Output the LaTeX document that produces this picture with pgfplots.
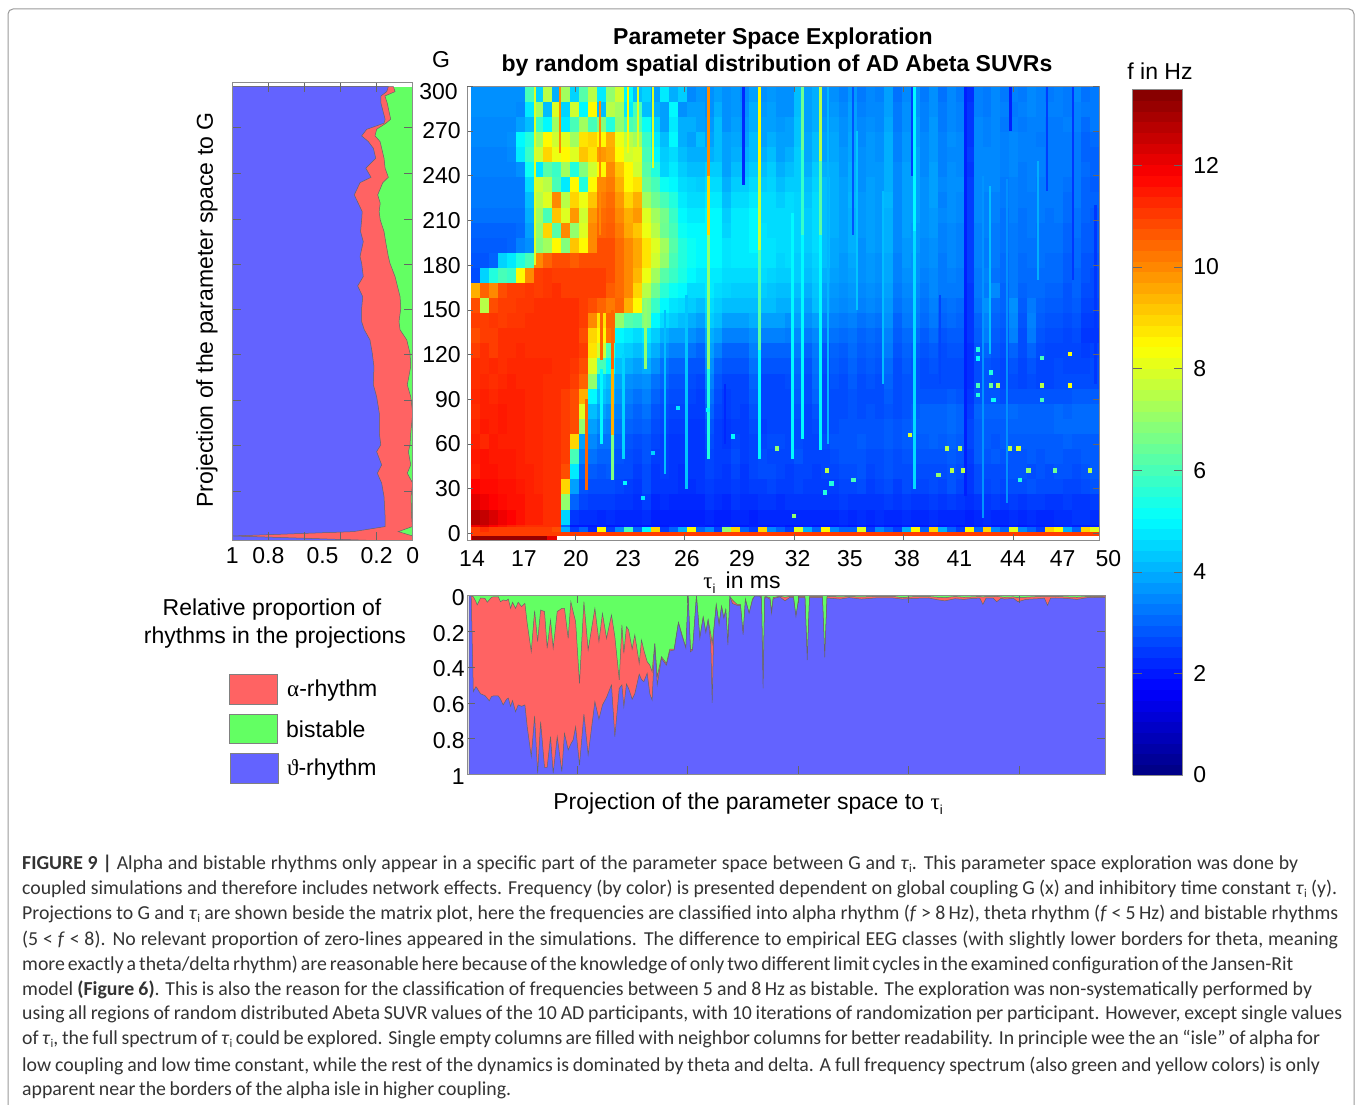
\documentclass[border=0pt]{standalone}
\usepackage{fontspec}
\usepackage{pgfplots}
\usepackage{pgfplotstable}
\pgfplotsset{compat=1.18}
\setmainfont{Liberation Sans}
\newfontfamily\gr{Liberation Serif}
\newfontfamily\capf{Carlito}
\newcommand\fz{\fontsize{23}{27}\selectfont}
\definecolor{rb}{rgb}{0.39,0.39,1}
\definecolor{rr}{rgb}{1,0.39,0.39}
\definecolor{rg}{rgb}{0.39,1,0.39}
\definecolor{fr}{gray}{0.55}
\pgfdeclareplotmark{hmcell}{\pgfpathrectangle{\pgfpoint{-4.7pt}{-7.8pt}}{\pgfpoint{9.4pt}{15.6pt}}\pgfusepathqfill}
\pgfdeclareplotmark{hmthin}{\pgfpathrectangle{\pgfpoint{-4.7pt}{-2.5pt}}{\pgfpoint{9.4pt}{5pt}}\pgfusepathqfill}
\pgfdeclareplotmark{hmdot}{\pgfpathrectangle{\pgfpoint{-2.2pt}{-2.3pt}}{\pgfpoint{4.4pt}{4.6pt}}\pgfusepathqfill}
% heat map: G, then 70 columns of frequency in tenths of Hz
\pgfplotstableread[header=false]{
294.5 36 36 36 36 36 36 60 45 75 40 72 45 62 75 48 70 78 50 42 45 38 48 40 44 35 37 36 38 36 37 35 38 36 37 36 36 42 38 40 36 36 34 37 33 35 34 38 32 35 36 33 36 32 35 33 23 34 33 35 33 34 33 35 34 33 34 33 35 32 33
284.4 36 36 36 36 36 35 48 72 42 80 45 78 50 85 42 75 72 48 60 42 40 38 50 36 38 38 36 40 36 37 36 40 37 38 36 36 42 38 40 36 37 35 38 34 35 35 38 33 36 36 34 36 33 35 34 24 34 33 35 34 33 34 35 34 34 34 33 34 33 33
274.2 35 35 35 35 35 38 42 58 50 72 48 60 72 60 68 55 70 60 62 52 45 38 48 40 40 38 37 42 36 38 37 40 38 38 37 38 43 38 40 37 38 36 38 35 36 35 39 33 36 37 34 37 33 35 34 24 35 34 35 33 34 33 34 34 33 33 34 34 31 33
264.1 35 35 35 35 36 50 55 72 85 78 80 72 88 90 85 95 82 75 72 58 48 42 50 40 38 42 38 42 38 39 38 42 38 40 38 38 43 39 42 38 39 36 39 35 37 36 40 34 37 37 35 37 34 36 35 24 35 34 35 34 35 34 34 33 33 33 33 33 30 31
254 34 34 34 34 35 48 58 78 90 82 85 80 92 88 98 96 85 78 80 60 50 44 46 42 40 40 40 42 38 40 40 42 40 42 38 40 44 39 42 38 39 37 39 36 37 36 40 34 37 38 35 37 34 35 35 25 35 35 35 34 35 34 34 34 33 33 33 33 30 30
243.8 34 34 34 34 34 36 52 48 62 58 72 55 68 78 85 100 92 85 78 62 55 45 48 44 42 42 44 44 38 42 42 44 42 44 40 42 44 40 44 40 40 37 40 36 37 37 40 35 38 38 35 38 34 36 35 24 35 35 35 34 35 33 34 34 33 33 33 33 31 30
233.7 33 33 33 33 33 33 46 78 75 60 48 85 55 85 100 102 95 85 88 65 60 52 50 46 45 44 46 46 40 44 44 46 44 45 42 44 44 42 45 42 40 38 40 36 38 37 40 35 38 38 36 38 35 36 36 25 35 35 35 33 34 33 34 33 33 33 32 33 30 29
223.6 33 33 33 33 33 33 42 75 80 100 75 90 82 92 102 104 98 90 95 72 65 60 55 48 46 46 48 48 42 46 46 48 46 46 44 46 45 43 46 42 40 38 41 37 38 37 41 35 38 38 36 38 34 36 35 25 35 34 34 33 34 33 33 33 33 33 31 33 30 30
213.4 32 32 32 32 32 32 40 72 60 92 80 98 78 98 104 105 100 95 98 80 72 66 58 50 48 48 50 50 44 48 48 50 46 46 46 46 45 44 46 42 40 38 40 37 38 37 40 35 38 38 36 37 35 36 35 25 35 34 34 32 34 32 33 33 32 33 31 32 30 29
203.3 30 30 30 30 30 31 38 70 90 62 100 70 80 100 105 106 102 96 92 82 75 65 60 52 50 50 50 50 45 48 48 50 47 46 46 46 45 44 46 42 40 38 40 37 38 37 40 35 38 37 36 37 34 35 34 25 34 34 33 32 33 32 33 32 32 32 30 32 29 29
193.2 29 29 29 29 30 34 36 68 72 85 68 92 85 100 108 108 104 100 96 88 80 72 62 55 52 50 50 50 47 48 48 50 47 47 46 46 45 44 46 42 39 38 40 36 38 37 40 35 37 37 35 36 34 35 34 25 34 33 33 32 33 32 32 32 32 32 30 31 29 29
183 28 28 30 45 48 55 60 100 105 108 108 106 108 108 108 108 104 100 96 88 78 70 60 55 52 50 50 50 47 48 48 48 47 47 45 46 44 43 45 42 39 37 39 36 37 36 39 34 37 36 35 36 33 35 34 25 34 33 33 31 33 31 32 32 31 31 29 31 28 28
172.9 27 45 55 60 58 85 100 110 111 110 110 110 110 110 110 108 104 100 94 82 72 62 58 54 50 48 48 48 46 46 46 46 46 45 44 44 44 42 44 40 38 37 38 36 37 36 39 34 36 36 34 35 33 34 33 25 33 34 32 31 33 31 31 31 31 31 29 30 28 27
162.7 95 105 100 108 110 110 111 110 111 112 110 110 110 110 110 106 104 100 90 75 65 56 52 50 46 46 48 46 45 44 44 44 44 43 42 42 42 40 43 38 37 36 37 35 36 35 38 33 35 35 33 35 33 33 33 24 33 33 35 30 33 30 31 31 30 30 28 30 27 27
152.6 108 75 108 110 110 111 111 112 112 112 112 112 110 108 105 102 105 95 85 68 58 50 47 46 44 42 46 44 42 42 42 42 42 42 40 40 40 38 42 37 36 35 36 34 35 34 37 32 34 34 32 34 31 32 31 24 32 36 31 30 36 29 33 30 29 29 28 29 26 26
142.5 110 110 111 110 111 111 112 112 112 112 112 112 110 100 88 105 70 62 60 68 50 46 44 42 40 38 44 42 38 38 38 40 38 38 38 36 38 36 38 34 34 33 34 32 33 32 36 30 33 33 31 33 30 31 30 24 30 34 30 29 35 28 34 29 28 28 27 28 25 25
132.3 108 110 110 112 112 112 112 112 112 112 112 112 108 90 85 103 50 48 46 48 44 40 38 38 36 34 40 38 34 34 34 36 34 34 34 33 35 33 35 31 32 31 32 30 31 30 34 29 31 31 29 31 28 29 29 24 29 33 29 28 34 27 33 28 27 27 26 27 24 24
122.2 110 112 110 112 112 113 112 112 112 112 112 112 110 88 78 60 46 44 42 44 40 36 34 34 32 30 38 34 30 30 30 34 30 30 30 30 33 30 33 28 30 29 31 29 30 29 33 28 30 29 28 29 27 28 28 23 28 30 28 27 30 27 30 27 26 26 26 26 25 26
112.1 112 112 113 112 113 113 113 113 113 112 112 111 108 80 60 50 42 40 38 40 36 32 30 30 28 28 36 30 28 28 28 32 28 28 28 28 31 28 32 27 29 28 30 28 29 28 31 27 29 28 27 28 27 27 27 23 27 28 27 26 28 26 28 26 26 27 26 26 26 27
101.9 112 113 112 113 114 113 113 113 112 112 112 110 105 70 45 42 38 36 35 36 32 30 28 28 27 26 34 28 26 26 26 30 26 26 26 27 30 27 31 26 28 27 29 27 28 27 30 27 28 28 27 27 27 27 27 23 27 28 27 26 27 26 27 26 26 27 27 27 27 27
91.8 113 114 113 114 114 114 113 113 112 112 110 108 95 50 42 40 36 34 32 34 30 28 27 27 26 25 32 27 25 26 26 29 26 26 26 26 29 27 30 26 27 27 28 27 27 27 29 27 28 28 28 28 28 29 28 24 28 28 28 27 28 28 28 28 28 28 28 29 29 29
81.7 112 114 114 115 114 114 113 113 112 112 110 108 80 42 38 36 34 32 30 32 28 27 26 26 25 25 30 26 25 26 25 28 26 26 26 26 28 26 28 26 27 27 28 27 28 27 28 27 28 29 30 30 30 31 30 25 30 30 30 30 31 30 30 30 30 31 30 31 31 31
71.5 113 115 114 115 114 114 113 113 112 112 110 108 70 38 35 34 32 30 29 30 27 26 25 25 24 24 28 25 24 25 25 27 25 26 26 26 27 26 27 26 27 28 28 28 28 28 29 28 29 30 30 30 30 31 30 26 29 29 29 29 30 30 30 30 30 31 31 31 31 31
61.4 114 113 115 114 114 114 113 113 112 112 110 90 38 35 32 32 30 28 27 28 26 25 24 24 24 24 27 25 24 26 25 26 26 27 27 26 27 26 26 27 28 28 28 29 28 28 29 28 29 29 29 30 29 30 29 26 29 29 28 29 29 29 29 29 29 29 30 29 29 29
51.2 115 116 115 115 115 114 113 113 112 112 110 60 34 32 30 30 28 27 26 28 25 25 24 24 24 24 26 25 25 27 25 26 27 26 26 26 28 26 26 26 27 28 28 28 27 27 28 27 28 28 28 28 28 29 28 25 29 28 29 28 28 28 29 28 29 29 28 28 29 29
41.1 114 116 116 115 115 114 114 113 112 112 108 48 30 29 28 29 27 27 25 27 24 25 24 23 24 24 26 25 24 26 24 26 27 27 26 25 26 26 25 26 26 27 27 28 26 27 28 27 27 27 27 27 27 28 27 24 27 27 27 27 28 28 27 28 27 28 28 27 28 29
31 118 117 117 116 116 115 114 113 112 112 90 38 28 27 27 27 26 25 24 27 24 24 24 23 23 24 25 24 24 25 24 25 25 26 25 25 26 25 25 25 25 26 26 27 25 26 27 25 27 26 26 27 26 28 26 24 27 26 27 26 27 27 28 27 27 27 26 26 27 28
20.8 122 120 118 117 116 116 114 114 112 112 70 30 26 25 25 25 24 24 23 25 22 23 22 22 22 22 24 23 22 24 23 23 24 24 23 24 24 24 24 24 24 25 24 24 24 24 25 24 25 24 24 25 24 25 24 23 24 24 25 24 25 24 25 25 24 24 25 24 24 25
10.7 128 126 123 120 118 116 114 114 112 112 45 24 23 23 22 23 22 22 22 23 21 21 21 21 21 21 22 21 21 22 22 21 22 22 22 22 22 22 22 22 22 23 22 23 22 23 22 22 23 22 22 23 22 22 22 21 22 23 22 22 23 22 23 22 22 23 23 24 24 23
0.6 120 122 118 116 114 113 112 112 112 112 30 20 20 20 21 20 20 21 20 20 20 20 21 20 20 21 20 20 21 20 20 21 20 20 21 20 20 21 20 20 20 21 20 21 20 21 20 20 21 20 20 21 20 21 20 20 21 21 20 20 21 20 21 21 21 21 22 21 21 21
}\hm
\pgfplotstableread[header=false]{
2.5 110 112 110 110 110 110 110 110 110 108 40 25 30 22 85 25 35 60 30 50 90 25 30 40 85 30 35 25 70 90 30 25 90 35 30 25 80 40 30 85 35 30 30 80 25 35 30 25 40 85 30 90 40 30 25 85 30 90 35 30 80 35 30 25 90 85 40 30 90 80
}\hmb
\pgfplotstableread{
G b r
299.8 1 1
299.8 .135 .107
296.4 .144 .098
293.5 .176 .154
288.6 .176 .141
277.9 .153 .122
275.2 .159 .148
271.1 .255 .2
266.7 .283 .209
262.9 .246 .181
258.4 .218 .172
251.7 .205 .159
245 .26 .153
238.9 .231 .135
235.3 .292 .166
227.1 .324 .194
221.5 .302 .18
215.9 .28 .186
210.3 .283 .18
202.5 .289 .159
195.7 .274 .15
185.7 .292 .135
181.2 .283 .126
172.3 .274 .098
166 .305 .085
158.8 .277 .07
151 .283 .066
142 .283 .076
136.5 .268 .07
129.8 .237 .033
120.8 .224 .015
111.9 .215 .011
99.6 .218 .03
91.7 .2 .011
80.5 .185 0
67.1 .185 .011
59.3 .177 .015
54.8 .2 .024
45.9 .172 .011
40.3 .196 .03
33.6 .172 0
24.6 .159 .009
11.2 .153 .006
4.5 .153 .002
1.1 .33 .08
-1.8 .998 0
-4.9 .2 0
-4.97 1 1
}\Lt
\pgfplotstableread{
x p q
14.00 0 0
14.11 .003 .003
14.23 .538 .007
14.38 .51 .035
14.45 .52 .053
14.64 .55 .014
14.89 .56 .016
15.02 .575 .038
15.13 .589 .025
15.26 .565 .01
15.36 .562 .008
15.64 .562 .007
15.77 .58 .035
15.92 .612 .025
16.11 .58 .029
16.21 .574 .02
16.34 .62 .072
16.45 .588 .038
16.62 .65 .072
16.77 .612 .038
16.96 .62 .062
17.15 .612 .044
17.28 .734 .156
17.51 .901 .314
17.70 .674 .085
17.87 .995 .258
18.04 .706 .081
18.26 .961 .09
18.41 .961 .295
18.60 .79 .137
18.75 .995 .295
18.98 .79 .09
19.24 .985 .072
19.39 .771 .072
19.60 .864 .24
19.75 .83 .035
19.88 .808 .09
20.02 .734 .146
20.24 .948 .491
20.49 .663 .035
20.73 .892 .305
21.11 .594 .072
21.34 .692 .258
21.54 .612 .1
21.77 .57 .24
22.05 .5 .109
22.24 .79 .23
22.49 .52 .472
22.64 .5 .165
22.75 .622 .323
22.90 .495 .174
23.02 .52 .193
23.22 .58 .3
23.37 .55 .22
23.62 .44 .38
23.75 .47 .249
23.88 .482 .305
24.07 .435 .37
24.22 .55 .39
24.35 .585 .426
24.50 .272 .268
24.64 .5 .454
24.88 .352 .342
25.16 .39 .38
25.35 .31 .30
25.60 .305 .30
25.84 .153 .15
26.03 .222 .215
26.26 .295 .292
26.39 .003 .003
26.52 .315 .305
26.64 .305 .30
26.86 .003 .003
27.05 .24 .235
27.24 .123 .12
27.39 .208 .205
27.52 .137 .135
27.67 .27 .215
27.75 .6 .27
27.84 .2 .19
27.98 .055 .05
28.14 .165 .16
28.28 .063 .06
28.41 .128 .125
28.52 .08 .08
28.64 .277 .275
28.75 .007 .005
28.90 .045 .025
29.16 .055 .05
29.35 .055 .05
29.50 .22 .22
29.63 .025 .02
29.84 .1 .1
30.03 .025 .02
30.16 .003 .003
30.45 .003 .003
30.54 .02 .005
30.63 .52 .52
30.72 .02 .008
30.79 .008 .006
31.02 .02 .012
31.11 .1 .09
31.2 .02 .012
31.29 .015 .01
31.58 .008 .004
31.87 .03 .01
32.15 .01 .005
32.35 .012 .005
32.49 .118 .118
32.66 .012 .005
33.0 .012 .005
33.13 .361 .361
33.26 .012 .005
33.99 .012 .005
34.12 .346 .346
34.25 .014 .005
35 .02 .008
35.5 .012 .006
36.2 .02 .008
37 .014 .005
38 .014 .005
38.5 .02 .012
39.2 .016 .006
40 .014 .006
40.5 .024 .01
40.92 .03 .012
41.5 .018 .006
42 .022 .01
42.5 .016 .008
42.9 .015 .006
43.07 .05 .008
43.25 .015 .006
43.65 .015 .006
43.85 .035 .005
44.1 .016 .008
44.3 .02 .01
44.8 .016 .008
45.05 .035 .012
45.5 .022 .01
46.2 .018 .006
46.55 .015 .005
46.73 .055 .005
46.9 .015 .005
47.2 .014 .005
47.8 .016 .008
48.4 .022 .01
49 .012 .006
50 .01 .004
50 1 1
14 1 1
}\Bt
\pgfplotstableread{
x y v
48.33 120.3 8.4
46.7 117.6 6
43.03 123.5 5.5
43.03 117.4 5
43.79 108 5.5
43.03 99 6
43.79 99 6.5
44.18 99 7.5
46.7 99 7.5
48.33 99 8.4
43.03 92.8 5.5
43.93 89.5 5.2
46.7 89.5 6
39.15 66 8
41.25 57 7.5
42.01 57 7.5
44.88 57 7.5
45.36 57 8
34.37 42 7.5
41.54 42 7.5
42.17 42 7.5
45.93 42 7
47.47 42 6.5
49.47 42 7.5
40.77 39 7
35.9 35.8 6
34.65 33.6 5.5
45.46 35.8 5.5
32.49 11.6 7
34.27 27.2 5.5
31.5 57 7
29 65 5
25.84 84 4.8
27.56 82.7 5
24.4 53.9 4.5
22.8 33.7 5
23.83 23.7 4.8
}\Dt
\begin{document}
\begin{tikzpicture}
\path[use as bounding box] (0,0) rectangle (1358pt,1105pt);
\draw[color=black!40,line width=1pt] (8pt,0pt) -- (8pt,1091pt) arc[start angle=180,end angle=90,radius=5pt] -- (1349pt,1096pt) arc[start angle=90,end angle=0,radius=5pt] -- (1354pt,0pt);
% left projection
\begin{axis}[at={(232.3pt,564.3pt)},anchor=south west,scale only axis,width=180.4pt,height=458pt,
 x dir=reverse,xmin=0,xmax=1,ymin=-4.97,ymax=302.4,axis on top,
 axis line style={fr,line width=.8pt},tick style={black!60,line width=.5pt},tick align=inside,major tick length=9pt,
 xtick={0,.2,.4,.6,.8,1},xticklabels={0,0.2,,,0.8,1},
 extra x ticks={.5},extra x tick labels={0.5},extra x tick style={tick style={draw=none}},
 xticklabel style={font=\fz,yshift=-3pt},
 ytick={27.9,58.8,89.5,120,150.5,180.8,211,241.6,272.5},yticklabels={},
 ytick pos=both,xtick pos=both]
\addplot[fill=rg,draw=none] coordinates {(0,-4.97)(1,-4.97)(1,299.8)(0,299.8)} --cycle;
\addplot[fill=rr,draw=black!60,line width=.5pt] table[x=r,y=G]{\Lt} --cycle;
\addplot[fill=rb,draw=black!60,line width=.5pt] table[x=b,y=G]{\Lt} --cycle;
\end{axis}
% heat map
\begin{axis}[at={(467.3pt,565pt)},anchor=south west,scale only axis,width=632pt,height=453.7pt,
 xmin=13.75,xmax=50,ymin=-4.5,ymax=300,axis on top,clip mode=individual,
 colormap/jet,point meta min=0,point meta max=13.5,
 axis line style={fr,line width=.8pt},tick style={black!60,line width=.5pt},tick align=inside,major tick length=6pt,
 xtick={19.94,26.22,32.51,38.76,45.04},xticklabels={},
 extra x ticks={14.02,17,19.98,22.97,26.35,29.5,32.7,35.7,38.97,41.97,45.05,47.9,50},
 extra x tick labels={14,17,20,23,26,29,32,35,38,41,44,47,{\hspace{18pt}50}},
 extra x tick style={tick style={draw=none},xticklabel style={font=\fz,yshift=-7pt}},
 ytick={0,30,...,270},yticklabels={0,30,60,90,120,150,180,210,240,270},
 extra y ticks={300},extra y tick labels={300},extra y tick style={yticklabel style={font=\fz,yshift=-5pt,xshift=-3pt}},
 yticklabel style={font=\fz,xshift=-3pt},
 ytick pos=both,xtick pos=both,
 colorbar sampled,
 colorbar style={samples=65,at={(parent axis.north east)},anchor=north west,xshift=24.7pt,yshift=-3pt,
  width=50.3pt,height=685.7pt,ytick={0,2,...,12},axis line style={fr,line width=.8pt},
  tick style={black!60,line width=.5pt},tick align=inside,major tick length=9pt,
  /pgf/number format/assume math mode=true,yticklabel style={font=\fz,xshift=7pt}},
 stp/.style={mesh,line width=3pt,point meta=explicit},
 stq/.style={mesh,line width=2.5pt,point meta=explicit}]
\pgfplotsinvokeforeach{1,...,70}{
 \addplot[scatter,only marks,mark=hmcell,point meta=explicit] table[x expr={14+(#1-0.5)*36/70},y index=0,meta expr={\thisrowno{#1}/10}]{\hm};
 \addplot[scatter,only marks,mark=hmthin,point meta=explicit] table[x expr={14+(#1-0.5)*36/70},y index=0,meta expr={\thisrowno{#1}/10}]{\hmb};
}
\addplot[stp] coordinates {(27.57,300)[10](27.57,240)[10](27.57,200)[8](27.57,110)[6](27.57,50)[5]};
\addplot[stp] coordinates {(29.62,300)[2.2](29.62,234)[2.2]};
\addplot[stp] coordinates {(30.49,300)[8.5](30.49,244)[8.5](30.49,190)[7](30.49,123)[5.5](30.49,50)[4.5]};
\addplot[stp] coordinates {(32.99,300)[6.5](32.99,257)[6.5](32.99,200)[5](32.99,63)[5]};
\addplot[stp] coordinates {(33.98,300)[7.5](33.98,250)[7.5](33.98,200)[5](33.98,56)[5]};
\addplot[stp] coordinates {(39.39,300)[5](39.39,203)[5](39.39,30)[4.2]};
\addplot[stp] coordinates {(42.3,300)[2.1](42.3,25)[2.1]};
\addplot[stp] coordinates {(44.92,300)[2.1](44.92,270)[2.1]};
\addplot[stp] coordinates {(32.38,215)[5](32.38,50)[5]};
\addplot[stp] coordinates {(22.09,150)[10.5](22.09,110)[10.5](22.09,66)[8.5](22.09,36)[5]};
\addplot[stp] coordinates {(20.6,90)[10.5](20.6,29)[10.5]};
\addplot[stp] coordinates {(23.96,157)[7](23.96,110)[7]};
\addplot[stp] coordinates {(21.46,157)[10.5](21.46,116)[10.5]};
\addplot[stq] coordinates {(17.63,300)[8](17.63,180)[8]};
\addplot[stq] coordinates {(19.07,300)[10](19.07,255)[10]};
\addplot[stq] coordinates {(21.36,290)[10](21.36,200)[10]};
\addplot[stq] coordinates {(22.97,300)[8.5](22.97,255)[8.5]};
\addplot[stq] coordinates {(23.54,300)[8](23.54,255)[8]};
\addplot[stq] coordinates {(24.4,300)[8](24.4,245)[8]};
\addplot[stq] coordinates {(21.46,110)[5](21.46,60)[5]};
\addplot[stq] coordinates {(22.7,120)[4.5](22.7,50)[4.5]};
\addplot[stq] coordinates {(25.1,150)[4.2](25.1,40)[4.2]};
\addplot[stq] coordinates {(26.33,160)[4.3](26.33,30)[4.3]};
\addplot[stq] coordinates {(28.53,100)[2.2](28.53,60)[2.2]};
\addplot[stq] coordinates {(34.44,300)[4.1](34.44,60)[4.1]};
\addplot[stq] coordinates {(36.1,270)[4.3](36.1,150)[4.3]};
\addplot[stq] coordinates {(37.6,230)[4.2](37.6,100)[4.2]};
\addplot[stq] coordinates {(43.33,240)[4.1](43.33,10)[3.2]};
\addplot[stq] coordinates {(43.74,233)[4.2](43.74,120)[4.2]};
\addplot[stq] coordinates {(44.71,238)[3.9](44.71,20)[3.3]};
\addplot[stq] coordinates {(46.49,250)[4](46.49,170)[4]};
\addplot[stq] coordinates {(35.87,300)[2.8](35.87,200)[2.8]};
\addplot[stq] coordinates {(39.26,300)[2.5](39.26,240)[2.5]};
\addplot[stq] coordinates {(40.87,160)[2.6](40.87,100)[2.6]};
\addplot[stq] coordinates {(47,300)[2.5](47,230)[2.5]};
\addplot[stq] coordinates {(48.5,300)[2.4](48.5,170)[2.4]};
\addplot[stq] coordinates {(49.78,220)[2.4](49.78,100)[2.4]};
\addplot[mesh,line width=4.6pt,point meta=explicit] coordinates {(14,-0.5)[11](50,-0.5)[11]};
\addplot[mesh,line width=4pt,point meta=explicit] coordinates {(14,-3.2)[13.2](18.3,-3.2)[13.2](18.9,-3.2)[11]};
\addplot[draw=white,line width=4pt] coordinates {(18.9,-3.2)(50,-3.2)};
\addplot[scatter,only marks,mark=hmdot,point meta=\thisrow{v}] table[x=x,y=y]{\Dt};
\end{axis}
% bottom projection
\begin{axis}[at={(467.3pt,330.7pt)},anchor=south west,scale only axis,width=638pt,height=178.8pt,
 y dir=reverse,xmin=13.89,xmax=50,ymin=0,ymax=1,axis on top,
 axis line style={fr,line width=.8pt},tick style={black!60,line width=.5pt},tick align=inside,major tick length=8pt,
 xtick={20.11,26.35,32.61,38.84,45.13},xticklabels={},
 ytick={0,.2,.4,.6,.8,1},yticklabels={0,0.2,0.4,0.6,0.8,1},yticklabel style={font=\fz,xshift=1pt,yshift=-2pt},
 ytick pos=both,xtick pos=both]
\addplot[fill=rg,draw=none] coordinates {(14,0)(50,0)(50,1)(14,1)} --cycle;
\addplot[fill=rr,draw=black!60,line width=.5pt] table[x=x,y=q]{\Bt} --cycle;
\addplot[fill=rb,draw=black!60,line width=.5pt] table[x=x,y=p]{\Bt} --cycle;
\end{axis}
% texts
\begin{scope}[x=1pt,y=-1pt,shift={(0,1105pt)}]
\node[font=\fz\bfseries] at (773,38.5) {Parameter Space Exploration};
\node[font=\fz\bfseries] at (777,65.5) {by random spatial distribution of AD Abeta SUVRs};
\node[font=\fz] at (441,60) {G};
\node[font=\fz] at (1160,71) {f in Hz};
\node[font=\fz] at (742,583) {{\gr τ}\raisebox{-5pt}{\fontsize{13}{13}\selectfont i}\, in ms};
\node[font=\fz] at (748,803.5) {Projection of the parameter space to {\gr τ}\raisebox{-5pt}{\fontsize{13}{13}\selectfont i}};
\node[font=\fz,rotate=90] at (207,310) {Projection of the parameter space to G};
\node[font=\fz] at (272,610) {Relative proportion of};
\node[font=\fz] at (275,638) {rhythms in the projections};
\draw[fill=rr,draw=black!50] (229,674.3) rectangle (276.7,704);
\draw[fill=rg,draw=black!50] (229.3,714) rectangle (277,743.7);
\draw[fill=rb,draw=black!50] (230,753.3) rectangle (277.7,783);
\node[font=\fz,anchor=west,inner sep=0] at (287,691) {{\gr α}-rhythm};
\node[font=\fz,anchor=west,inner sep=0] at (286,729) {bistable};
\node[font=\fz,anchor=west,inner sep=0] at (287,770) {{\gr ϑ}-rhythm};
\newcommand\tauu{\textit{τ}\raisebox{-3pt}{\fontsize{12}{12}\selectfont i}}
\newcommand\capl[3]{\node[anchor=west,inner sep=0,text=black!80,font=\capf\fontsize{19.8}{24}\selectfont] at (22,#1) {\makebox[#2pt][s]{#3}};}
\capl{863.5}{1276}{\textbf{FIGURE 9 |} Alpha and bistable rhythms only appear in a specific part of the parameter space between G and \tauu. This parameter space exploration was done by}
\capl{888.5}{1315}{coupled simulations and therefore includes network effects. Frequency (by color) is presented dependent on global coupling G (x) and inhibitory time constant \tauu{} (y).}
\capl{913.5}{1316}{Projections to G and \tauu{} are shown beside the matrix plot, here the frequencies are classified into alpha rhythm (\textit{f} > 8\,Hz), theta rhythm (\textit{f} < 5\,Hz) and bistable rhythms}
\capl{939.5}{1316}{(5 < \textit{f} < 8). No relevant proportion of zero-lines appeared in the simulations. The difference to empirical EEG classes (with slightly lower borders for theta, meaning}
\capl{964.5}{1266}{more exactly a theta/delta rhythm) are reasonable here because of the knowledge of only two different limit cycles in the examined configuration of the Jansen-Rit}
\capl{989.5}{1290}{model \textbf{(Figure 6)}. This is also the reason for the classification of frequencies between 5 and 8\,Hz as bistable. The exploration was non-systematically performed by}
\capl{1014.5}{1320}{using all regions of random distributed Abeta SUVR values of the 10 AD participants, with 10 iterations of randomization per participant. However, except single values}
\capl{1039.5}{1298}{of \tauu, the full spectrum of \tauu{} could be explored. Single empty columns are filled with neighbor columns for better readability. In principle wee the an “isle” of alpha for}
\capl{1065.5}{1298}{low coupling and low time constant, while the rest of the dynamics is dominated by theta and delta. A full frequency spectrum (also green and yellow colors) is only}
\capl{1090.5}{489}{apparent near the borders of the alpha isle in higher coupling.}
\end{scope}
\end{tikzpicture}
\end{document}
